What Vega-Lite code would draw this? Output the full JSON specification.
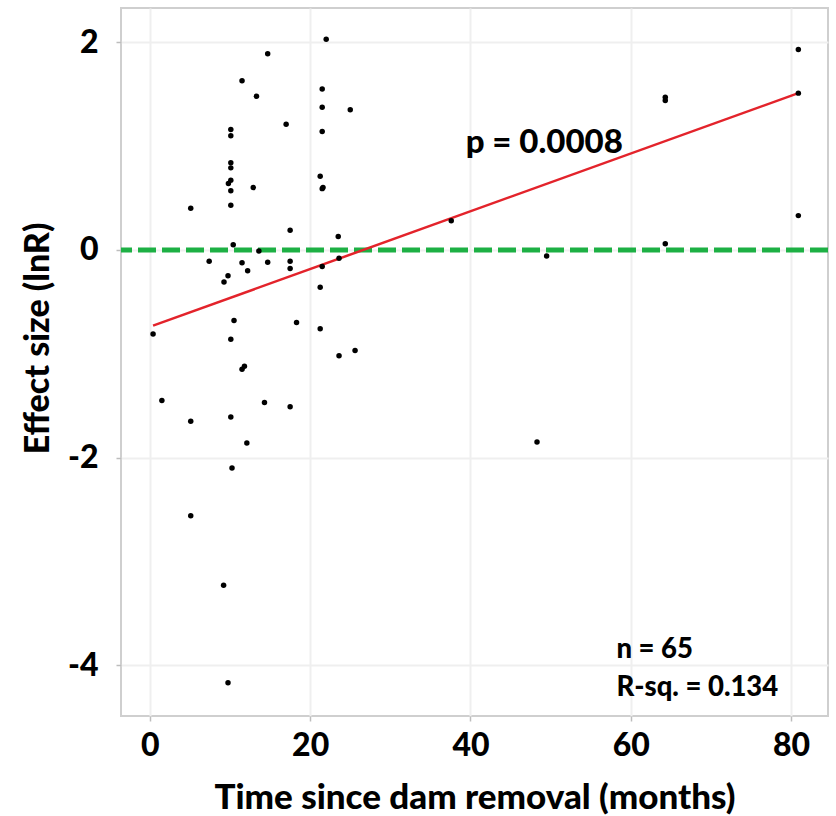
{
  "$schema": "https://vega.github.io/schema/vega-lite/v6.json",
  "autosize": "none",
  "width": 707,
  "height": 708,
  "padding": {"left": 121, "top": 8, "right": 8, "bottom": 100},
  "background": "white",
  "config": {
    "view": {"stroke": "#cfcfcf", "strokeWidth": 2},
    "font": "Lato"
  },
  "datasets": {
    "pts": [
      {"t": 22.0, "e": 2.03}, {"t": 14.7, "e": 1.89}, {"t": 11.5, "e": 1.63}, {"t": 13.3, "e": 1.48},
      {"t": 21.5, "e": 1.55}, {"t": 21.5, "e": 1.375}, {"t": 25.0, "e": 1.35}, {"t": 17.0, "e": 1.21},
      {"t": 10.1, "e": 1.16}, {"t": 10.1, "e": 1.10}, {"t": 21.5, "e": 1.14}, {"t": 10.1, "e": 0.84},
      {"t": 10.1, "e": 0.79}, {"t": 10.1, "e": 0.67}, {"t": 9.8, "e": 0.64}, {"t": 10.1, "e": 0.57},
      {"t": 12.9, "e": 0.60}, {"t": 21.25, "e": 0.71}, {"t": 21.5, "e": 0.59}, {"t": 21.6, "e": 0.60},
      {"t": 5.1, "e": 0.40}, {"t": 10.1, "e": 0.43}, {"t": 17.5, "e": 0.19}, {"t": 23.5, "e": 0.13},
      {"t": 10.4, "e": 0.05}, {"t": 13.6, "e": -0.01}, {"t": 7.4, "e": -0.11}, {"t": 11.5, "e": -0.125},
      {"t": 14.7, "e": -0.12}, {"t": 17.5, "e": -0.11}, {"t": 17.5, "e": -0.18}, {"t": 12.2, "e": -0.20},
      {"t": 9.75, "e": -0.25}, {"t": 9.25, "e": -0.31}, {"t": 21.5, "e": -0.16}, {"t": 21.25, "e": -0.36},
      {"t": 23.6, "e": -0.08}, {"t": 0.4, "e": -0.81}, {"t": 10.5, "e": -0.68}, {"t": 10.1, "e": -0.86},
      {"t": 18.3, "e": -0.70}, {"t": 21.25, "e": -0.76}, {"t": 23.6, "e": -1.02}, {"t": 25.6, "e": -0.97},
      {"t": 11.8, "e": -1.12}, {"t": 11.5, "e": -1.15}, {"t": 1.5, "e": -1.45}, {"t": 14.3, "e": -1.47},
      {"t": 17.5, "e": -1.51}, {"t": 5.1, "e": -1.65}, {"t": 10.1, "e": -1.61}, {"t": 12.1, "e": -1.86},
      {"t": 10.25, "e": -2.10}, {"t": 5.1, "e": -2.56}, {"t": 9.2, "e": -3.23}, {"t": 9.75, "e": -4.17},
      {"t": 80.9, "e": 1.93}, {"t": 80.9, "e": 1.51}, {"t": 64.3, "e": 1.44}, {"t": 64.3, "e": 1.47},
      {"t": 80.9, "e": 0.33}, {"t": 64.3, "e": 0.06}, {"t": 49.5, "e": -0.06}, {"t": 37.6, "e": 0.28},
      {"t": 48.3, "e": -1.85}
    ],
    "fit": [{"t": 0.4, "e": -0.73}, {"t": 80.9, "e": 1.51}],
    "zero": [{"e": 0}],
    "labels": [
      {"t": 39.4, "e": 1.03, "label": "p = 0.0008", "kind": "p"},
      {"t": 58.2, "e": -3.85, "label": "n = 65", "kind": "s"},
      {"t": 58.2, "e": -4.22, "label": "R-sq. = 0.134", "kind": "s"}
    ]
  },
  "encoding": {
    "x": {
      "field": "t", "type": "quantitative",
      "scale": {"domain": [-3.6, 84.6], "nice": false, "zero": false},
      "axis": {
        "values": [0, 20, 40, 60, 80],
        "domain": false, "ticks": true, "tickColor": "#bdbdbd", "tickSize": 5, "tickWidth": 1.5,
        "grid": true, "gridColor": "#efefef", "gridWidth": 2,
        "labelFont": "Lato", "labelFontSize": 32, "labelFontWeight": 900, "labelColor": "#000000",
        "labelPadding": 9,
        "title": "Time since dam removal (months)",
        "titleFont": "Lato", "titleFontSize": 35, "titleFontWeight": 900, "titleColor": "#000000",
        "titlePadding": 19
      }
    },
    "y": {
      "field": "e", "type": "quantitative",
      "scale": {"domain": [-4.49, 2.33], "nice": false, "zero": false},
      "axis": {
        "values": [2, 0, -2, -4],
        "labelExpr": "replace(datum.label, '\u2212', '-')",
        "domain": false, "ticks": true, "tickColor": "#bdbdbd", "tickSize": 5, "tickWidth": 1.5,
        "grid": true, "gridColor": "#efefef", "gridWidth": 2,
        "labelFont": "Lato", "labelFontSize": 32, "labelFontWeight": 900, "labelColor": "#000000",
        "labelPadding": 18,
        "title": "Effect size (lnR)",
        "titleFont": "Lato", "titleFontSize": 34, "titleFontWeight": 900, "titleColor": "#000000",
        "titlePadding": 12,
        "titleY": 330
      }
    }
  },
  "layer": [
    {
      "data": {"name": "zero"},
      "mark": {"type": "rule", "color": "#1db044", "strokeWidth": 5, "strokeDash": [18, 6]},
      "encoding": {"x": null}
    },
    {
      "data": {"name": "fit"},
      "mark": {"type": "line", "color": "#e3232b", "strokeWidth": 2.5},
      "encoding": {}
    },
    {
      "data": {"name": "pts"},
      "mark": {"type": "circle", "color": "#000000", "size": 30, "opacity": 1},
      "encoding": {}
    },
    {
      "data": {"name": "labels"},
      "transform": [{"filter": "datum.kind == 'p'"}],
      "mark": {"type": "text", "align": "left", "baseline": "middle", "font": "Lato", "fontWeight": 900, "fontSize": 33, "color": "#000000"},
      "encoding": {"text": {"field": "label"}}
    },
    {
      "data": {"name": "labels"},
      "transform": [{"filter": "datum.kind == 's'"}],
      "mark": {"type": "text", "align": "left", "baseline": "middle", "font": "Lato", "fontWeight": 900, "fontSize": 27.5, "color": "#000000"},
      "encoding": {"text": {"field": "label"}}
    }
  ]
}
